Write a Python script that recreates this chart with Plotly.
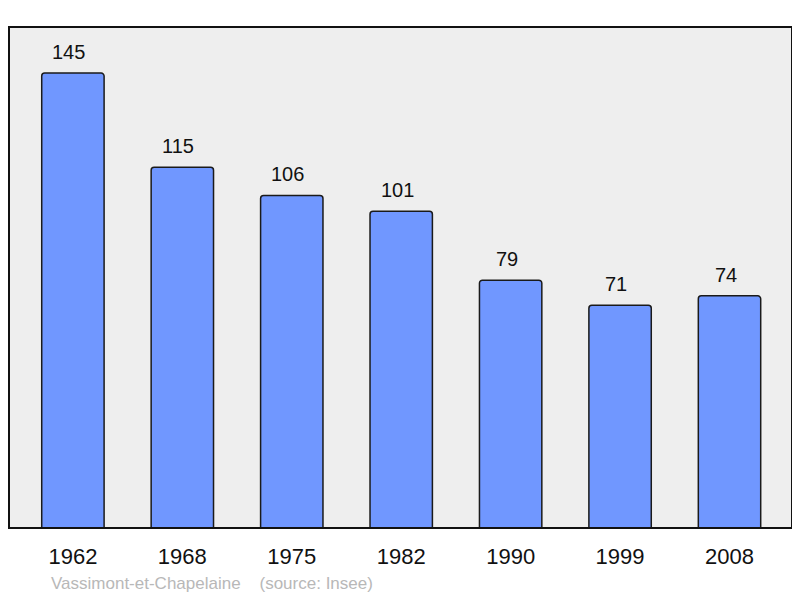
import plotly.graph_objects as go

years = ["1962", "1968", "1975", "1982", "1990", "1999", "2008"]
population = [145, 115, 106, 101, 79, 71, 74]

fig = go.Figure()
fig.add_trace(go.Bar(
    x=list(range(len(years))), y=population,
    width=0.57,
    marker=dict(color="#7097ff", line=dict(color="#1a1a1a", width=1.5),
                cornerradius=3),
    hoverinfo="skip",
))

for i, v in enumerate(population):
    fig.add_annotation(x=i, y=v, text=str(v), showarrow=False,
                       yshift=21, xshift=-4, font=dict(size=20, color="#111111"))

fig.add_annotation(xref="paper", yref="paper", x=0.051, y=-0.11,
                   xanchor="left", yanchor="middle", showarrow=False,
                   text="Vassimont-et-Chapelaine&nbsp;&nbsp;&nbsp;&nbsp;(source: Insee)",
                   font=dict(size=17, color="#b8b8b8"))

# frame around the plot area
fig.add_shape(type="rect", xref="paper", yref="paper", x0=0, x1=1, y0=0, y1=1,
              line=dict(color="#111111", width=2), layer="above")

# page body has an 8px margin, so the figure is a bit smaller than the window
fig.update_layout(
    width=792, height=590,
    margin=dict(l=1, r=8, t=19, b=70),
    paper_bgcolor="white", plot_bgcolor="#eeeeee",
    font=dict(family="Liberation Sans, Arial, sans-serif"),
    showlegend=False,
    xaxis=dict(range=[-0.584, 6.571], tickvals=list(range(len(years))),
               ticktext=years, showgrid=False, zeroline=False,
               tickfont=dict(size=22, color="#111111"), ticks="", ticklen=0,
               ticklabelstandoff=13),
    yaxis=dict(range=[0, 159.7], visible=False, showgrid=False),
)

fig.write_html("out.html")
